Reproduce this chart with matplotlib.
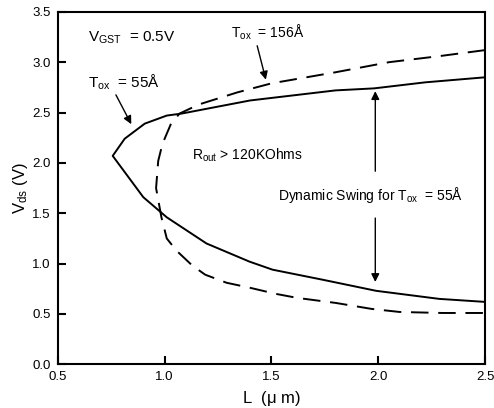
import matplotlib
matplotlib.use("Agg")
from matplotlib import pyplot as plt

plt.rcParams['font.family'] = ['Liberation Sans', 'DejaVu Sans']
plt.rcParams['mathtext.fontset'] = 'custom'
plt.rcParams['mathtext.rm'] = 'Liberation Sans'
plt.rcParams['mathtext.it'] = 'Liberation Sans'

# Tox = 55A (solid), traced from tip outwards
L_55 = [2.50, 2.22, 1.98, 1.80, 1.40, 1.08, 1.01, 0.907, 0.813, 0.757,
        0.90, 1.01, 1.196, 1.397, 1.505, 1.74, 1.99, 2.285, 2.50]
V_55 = [2.85, 2.80, 2.74, 2.72, 2.62, 2.49, 2.47, 2.39, 2.24, 2.07,
        1.66, 1.46, 1.20, 1.02, 0.94, 0.84, 0.73, 0.65, 0.62]

# Tox = 156A (dashed)
L_156 = [2.50, 2.285, 2.05, 1.80, 1.50, 1.34, 1.16, 1.07, 1.03, 0.99,
         0.97, 0.96, 0.985, 1.01, 1.055, 1.13, 1.19, 1.29, 1.40, 1.52,
         1.62, 1.80, 1.97, 2.10, 2.30, 2.50]
V_156 = [3.12, 3.06, 3.00, 2.90, 2.79, 2.70, 2.58, 2.49, 2.39, 2.19,
         2.02, 1.75, 1.46, 1.25, 1.13, 0.98, 0.89, 0.81, 0.76, 0.70,
         0.66, 0.61, 0.55, 0.52, 0.51, 0.51]

fig = plt.figure(figsize=(4.94, 4.08), dpi=100)
ax = fig.add_axes([0.117, 0.107, 0.865, 0.864])

ax.plot(L_55, V_55, 'k-', lw=1.4)
ax.plot(L_156, V_156, 'k-', lw=1.4, dashes=(9, 5))

ax.set_xlim(0.5, 2.5)
ax.set_ylim(0.0, 3.5)
ax.set_xticks([0.5, 1.0, 1.5, 2.0, 2.5])
ax.set_yticks([0.0, 0.5, 1.0, 1.5, 2.0, 2.5, 3.0, 3.5])
ax.xaxis.set_major_formatter(matplotlib.ticker.FormatStrFormatter('%.1f'))
ax.yaxis.set_major_formatter(matplotlib.ticker.FormatStrFormatter('%.1f'))
ax.tick_params(direction='in', length=6, width=1.5, labelsize=9.5, pad=5)
for s in ax.spines.values():
    s.set_linewidth(1.5)

ax.set_xlabel(r'L  ($\mathrm{\mu}$ m)', fontsize=12, labelpad=4)
ax.set_ylabel(r'V$_{\mathrm{ds}}$ (V)', fontsize=12, labelpad=2)

ax.text(0.64, 3.24, r'V$_{\mathrm{GST}}$  = 0.5V', fontsize=11, va='center')
ax.text(0.64, 2.80, r'T$_{\mathrm{ox}}$  = 55Å', fontsize=11, va='center')
ax.text(1.31, 3.30, r'T$_{\mathrm{ox}}$  = 156Å', fontsize=10, va='center')
ax.text(1.13, 2.08, r'R$_{\mathrm{out}}$ > 120KOhms', fontsize=10, va='center')
ax.text(1.53, 1.68, r'Dynamic Swing for T$_{\mathrm{ox}}$  = 55Å', fontsize=10, va='center')

arrow = dict(arrowstyle='-|>', color='k', lw=1.0, mutation_scale=12)
ax.annotate('', xy=(0.85, 2.36), xytext=(0.766, 2.70), arrowprops=arrow)
ax.annotate('', xy=(1.477, 2.80), xytext=(1.43, 3.19), arrowprops=arrow)
ax.annotate('', xy=(1.986, 2.74), xytext=(1.986, 1.89), arrowprops=arrow)
ax.annotate('', xy=(1.986, 0.79), xytext=(1.986, 1.48), arrowprops=arrow)

fig.savefig('out.png', dpi=100)
